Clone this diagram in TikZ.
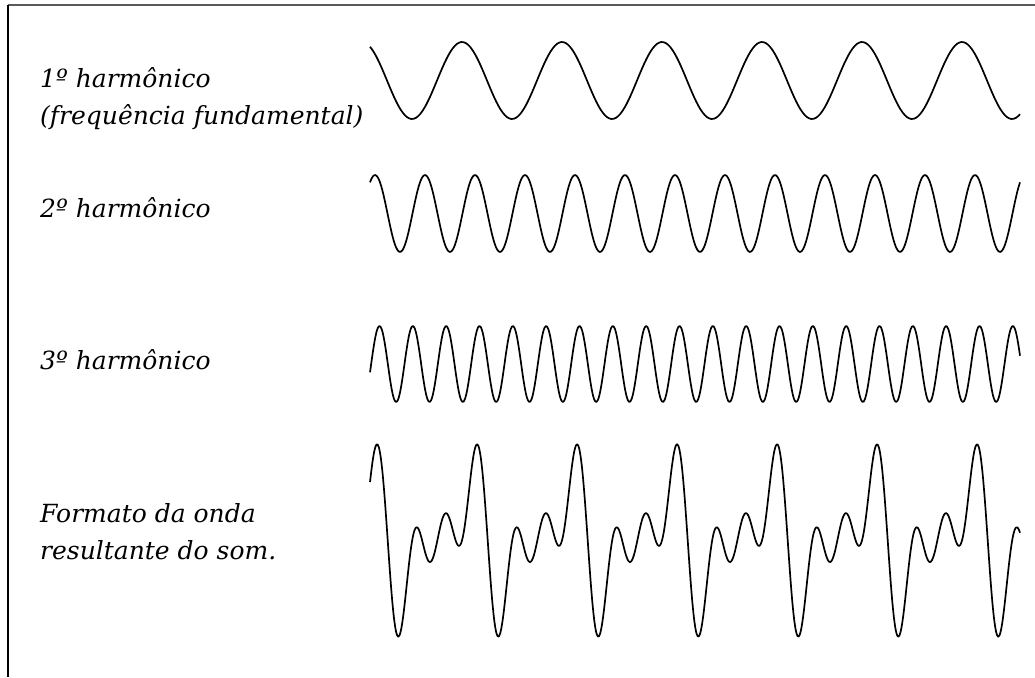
\documentclass[tikz,border=0pt]{standalone}
\usepackage{fontspec}
\setmainfont{DejaVu Serif}
\usepackage{tikz}
\usetikzlibrary{positioning}

\begin{document}
\begin{tikzpicture}[
    x=1pt, y=-1pt,
    lab/.style={font=\fontsize{25}{37}\selectfont\itshape, align=left, inner sep=0pt, anchor=base west},
    wave/.style={draw=black, line width=1.7pt, line join=round},
    frame/.style={line width=1.5pt}
  ]
    \useasboundingbox (0,0) rectangle (1035,677);

    % moldura
    \draw[frame, draw=black!65] (8,5) -- (1035,5);
    \draw[frame, draw=black] (8,5) -- (8,677);

    \node[lab] (lbl1) at (40,124) {1º harmônico\\(frequência fundamental)};
    \node[lab] (lbl2) at (40,217) {2º harmônico};
    \node[lab] (lbl3) at (40,369) {3º harmônico};
    \node[lab] (lblsum) at (40,559) {Formato da onda\\resultante do som.};

    % harmonicos
    \draw[wave] plot[domain=370:1020, samples=300, smooth]
      (\x, {80.5 - 38.5*cos(3.6*(\x-462))});
    \draw[wave] plot[domain=370:1020, samples=400, smooth]
      (\x, {213.5 - 38.5*cos(7.2*(\x-475))});
    \draw[wave] plot[domain=370:1020, samples=500, smooth]
      (\x, {364 - 38*cos(10.8*(\x-379.5))});
    % soma dos tres
    \draw[wave] plot[domain=370:1020, samples=600, smooth]
      (\x, {538.5 - 38.5*(cos(3.6*(\x-462)) + cos(7.2*(\x-475)) + cos(10.8*(\x-379.5)))});
  \end{tikzpicture}
\end{document}
